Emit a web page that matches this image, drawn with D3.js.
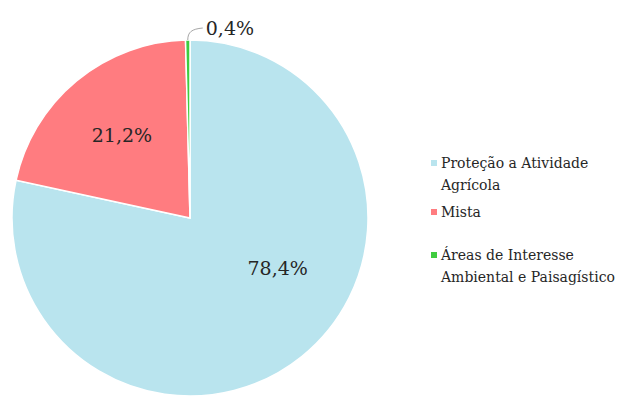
<!DOCTYPE html>
<html>
<head>
<meta charset="utf-8">
<script src="https://cdn.jsdelivr.net/npm/d3@7"></script>
<style>
  body { margin: 0; background: #fff; }
</style>
</head>
<body>
<div id="grafico"></div>
<script>
// datos
const CATEGORIAS = ["Proteção a Atividade Agrícola", "Mista", "Áreas de Interesse Ambiental e Paisagístico"];
const VALORES = [78.4, 21.2, 0.4];
const ETIQUETAS = ["78,4%", "21,2%", "0,4%"];
const LEYENDA_LINEAS = [["Proteção a Atividade", "Agrícola"], ["Mista"], ["Áreas de Interesse", "Ambiental e Paisagístico"]];

const WIDTH = 621;
const HEIGHT = 396;
const CX = 190;
const CY = 218;
const RADIO = 178;
const FUENTE = "'DejaVu Serif', serif";

const color = d3.scaleOrdinal()
    .domain(CATEGORIAS)
    .range(["#B9E4EE", "#FF7C80", "#3FCC3F"]);

const SVG = d3.select("#grafico").append("svg")
    .attr("width", WIDTH).attr("height", HEIGHT)
    .style("font-family", FUENTE);

const pie = d3.pie().sort(null).value(d => d.valor);
const arco = d3.arc().innerRadius(0).outerRadius(RADIO);

const datos = CATEGORIAS.map((c, i) => ({ cat: c, valor: VALORES[i], etiqueta: ETIQUETAS[i] }));
const arcos = pie(datos);

const grafico = SVG.append("g").attr("transform", "translate(" + CX + "," + CY + ")");

grafico.selectAll("path")
    .data(arcos)
    .enter().append("path")
    .attr("d", arco)
    .attr("fill", d => color(d.data.cat))
    .attr("stroke", "#fff")
    .attr("stroke-width", 1.5);

// etiquetas dentro de las porciones grandes
const arcoEtiqueta = d3.arc().innerRadius(RADIO * 0.6).outerRadius(RADIO * 0.6);
// la etiqueta grande la pone excel en otro ángulo
const angulosEtiqueta = [2.09, null];

grafico.selectAll(".etiqueta")
    .data(arcos.slice(0, 2))
    .enter().append("text")
    .attr("class", "etiqueta")
    .attr("transform", function(d, i) {
        let p;
        if (angulosEtiqueta[i] !== null) {
            const a = angulosEtiqueta[i];
            p = [Math.sin(a) * 101, -Math.cos(a) * 101];
        } else {
            p = arcoEtiqueta.centroid(d);
        }
        return "translate(" + p[0] + "," + p[1] + ")";
    })
    .attr("text-anchor", "middle")
    .attr("dy", "0.35em")
    .attr("fill", "#262626")
    .style("font-size", "19px")
    .text(d => d.data.etiqueta);

// etiqueta pequeña con línea guía
const pequena = arcos[2];
const angMedio = (pequena.startAngle + pequena.endAngle) / 2;
const px = Math.sin(angMedio) * RADIO;
const py = -Math.cos(angMedio) * RADIO;
grafico.append("path")
    .attr("d", "M" + px + "," + py + " C" + px + "," + (py - 8) + " " + (px + 4) + "," + (py - 11) + " " + (px + 15) + "," + (py - 12))
    .attr("fill", "none")
    .attr("stroke", "#A6A6A6")
    .attr("stroke-width", 1);

grafico.append("text")
    .attr("x", px + 18)
    .attr("y", py - 12)
    .attr("dy", "0.35em")
    .attr("fill", "#262626")
    .style("font-size", "19px")
    .text(pequena.data.etiqueta);

// leyenda
const LEYENDA_X = 431;
const LEYENDA_Y = [163, 212, 255];
const INTERLINEA = 22;

const leyenda = SVG.selectAll(".leyenda")
    .data(datos)
    .enter().append("g")
    .attr("class", "leyenda")
    .attr("transform", (d, i) => "translate(" + LEYENDA_X + "," + LEYENDA_Y[i] + ")");

leyenda.append("rect")
    .attr("x", 0)
    .attr("y", -3)
    .attr("width", 6)
    .attr("height", 6)
    .attr("fill", d => color(d.cat));

leyenda.append("text")
    .attr("fill", "#262626")
    .style("font-size", "14px")
    .selectAll("tspan")
    .data((d, i) => LEYENDA_LINEAS[i])
    .enter().append("tspan")
    .attr("x", 10)
    .attr("dy", (d, j) => j === 0 ? "0.35em" : INTERLINEA)
    .text(d => d);
</script>
</body>
</html>
